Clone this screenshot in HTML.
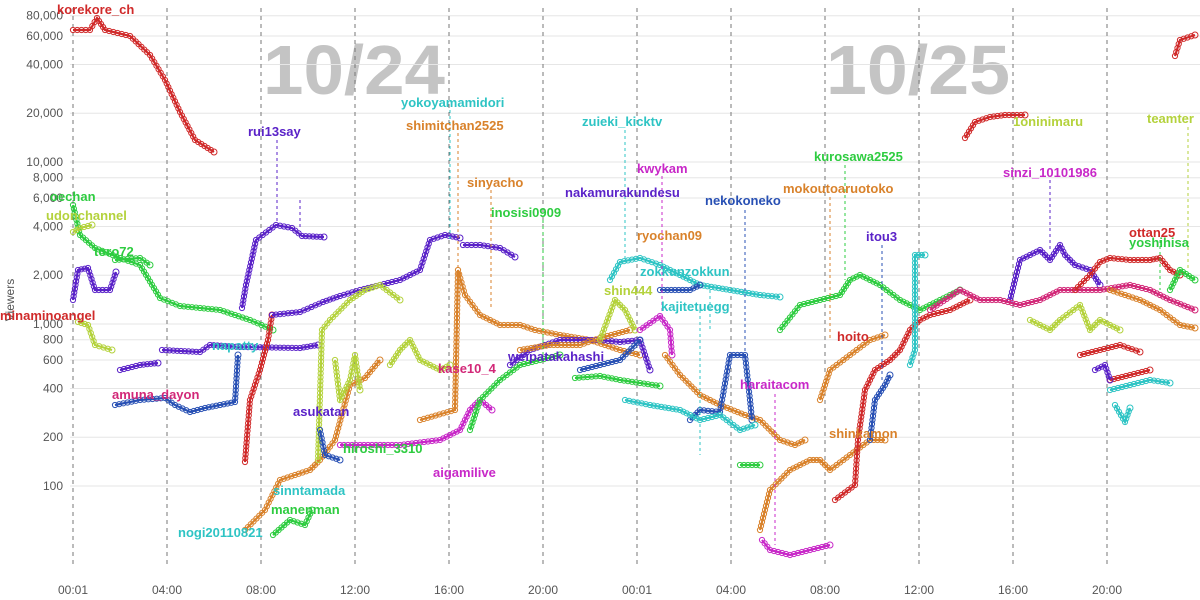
<!DOCTYPE html>
<html><head><meta charset="utf-8"><style>
body{margin:0;background:#fff;width:1200px;height:600px;overflow:hidden}
svg{display:block}
text{font-family:"Liberation Sans",sans-serif}
.t{font-size:12px;fill:#555}
.l{font-size:13px;font-weight:bold}
</style></head><body>
<svg id="s" width="1200" height="600" xmlns="http://www.w3.org/2000/svg">
<text x="263" y="94" font-size="70" font-weight="bold" fill="#c4c4c4" textLength="182" lengthAdjust="spacingAndGlyphs">10/24</text>
<text x="826" y="94" font-size="70" font-weight="bold" fill="#c4c4c4" textLength="184" lengthAdjust="spacingAndGlyphs">10/25</text>
<text class="t" transform="translate(14,300) rotate(-90)" text-anchor="middle" font-size="11">Viewers</text>
</svg>
<script>
var s=document.getElementById('s'),N='http://www.w3.org/2000/svg';
function ad(t,a,tx){var e=document.createElementNS(N,t);for(var k in a)e.setAttribute(k,a[k]);if(tx)e.textContent=tx;s.appendChild(e);return e;}
var ticks=[[80000,'80,000'],[60000,'60,000'],[40000,'40,000'],[20000,'20,000'],[10000,'10,000'],[8000,'8,000'],[6000,'6,000'],[4000,'4,000'],[2000,'2,000'],[1000,'1,000'],[800,'800'],[600,'600'],[400,'400'],[200,'200'],[100,'100']];
ticks.forEach(function(t){var y=324-162*Math.log10(t[0]/1000);
ad('line',{x1:70,x2:1200,y1:y,y2:y,stroke:'#e6e6e6'});
ad('text',{x:63,y:y+4,'text-anchor':'end','class':'t'},t[1]);});
var xl=['00:01','04:00','08:00','12:00','16:00','20:00','00:01','04:00','08:00','12:00','16:00','20:00'];
xl.forEach(function(l,i){var x=73+94*i;
ad('line',{x1:x,x2:x,y1:8,y2:568,stroke:'#777','stroke-dasharray':'4,4'});
ad('text',{x:x,y:594,'text-anchor':'middle','class':'t'},l);});
function ser(c,p){var d='M'+p.map(function(q){return q.join(',')}).join('L');
ad('path',{d:d,fill:'none',stroke:c,'stroke-width':2.2});
for(var i=0;i<p.length-1;i++){var a=p[i],b=p[i+1],L=Math.hypot(b[0]-a[0],b[1]-a[1]),n=Math.max(1,Math.round(L/4));
for(var j=0;j<n;j++){var f=j/n;ad('circle',{cx:a[0]+(b[0]-a[0])*f,cy:a[1]+(b[1]-a[1])*f,r:2.6,fill:'none',stroke:c,'stroke-width':1});}}
var z=p[p.length-1];ad('circle',{cx:z[0],cy:z[1],r:3,fill:'none',stroke:c,'stroke-width':1});}
var R='#d02a2a',P='#5a22c8',G='#2ecc40',YG='#b4d23c',O='#d9822b',B='#2850b4',T='#2ec4c4',M='#c828c8',MG='#d22878';
ser(R,[[73,30],[90,30],[97,18],[105,30],[130,36],[150,55],[165,80],[180,112],[195,140],[214,152]]);
ser(R,[[965,138],[975,122],[990,117],[1005,115],[1025,115]]);
ser(R,[[1175,56],[1180,40],[1195,35]]);
ser(P,[[242,308],[246,285],[256,240],[276,225],[292,228],[302,236],[324,237]]);
ser(G,[[73,205],[80,235],[95,248],[120,258],[140,265],[160,298],[180,306],[220,310],[250,320],[273,330]]);
ser(YG,[[73,232],[80,228],[92,225]]);
ser(G,[[115,260],[140,258],[150,265]]);
ser(P,[[73,300],[78,270],[88,268],[95,290],[110,290],[116,272]]);
ser(YG,[[78,322],[88,325],[95,345],[112,350]]);
ser(P,[[162,350],[200,352],[210,345],[240,347],[300,348],[318,345]]);
ser(B,[[115,405],[140,400],[165,398],[175,405],[190,412],[205,408],[220,405],[235,402],[238,355]]);
ser(P,[[120,370],[140,365],[158,363]]);
ser(R,[[245,462],[250,400],[260,370],[268,340],[272,315]]);
ser(P,[[272,315],[300,312],[323,302],[340,296],[360,290],[380,285],[400,280],[420,270],[430,240],[445,235],[460,238]]);
ser(P,[[463,245],[480,245],[500,248],[515,257]]);
ser(G,[[273,535],[290,520],[305,525],[312,510]]);
ser(O,[[245,530],[265,510],[280,480],[310,470],[320,460],[335,440],[350,385],[365,378],[380,360]]);
ser(YG,[[318,460],[322,330],[330,320],[350,300],[365,290],[380,285],[400,300]]);
ser(YG,[[335,360],[340,400],[350,380],[355,355],[360,390]]);
ser(O,[[420,420],[455,410],[458,270],[465,295],[480,315],[500,325],[520,325],[535,330],[560,335],[590,340],[620,350],[640,355]]);
ser(M,[[340,445],[400,445],[440,440],[460,430],[470,410],[480,400],[492,410]]);
ser(B,[[320,430],[325,455],[340,460]]);
ser(YG,[[390,365],[400,350],[410,340],[420,360],[440,370],[450,365]]);
ser(G,[[470,430],[480,400],[500,380],[520,365],[540,360],[560,355]]);
ser(P,[[510,365],[530,350],[560,340],[600,340],[620,342],[640,340],[650,370]]);
ser(O,[[520,350],[550,345],[580,345],[600,338],[630,330]]);
ser(YG,[[600,340],[615,300],[625,310],[635,330]]);
ser(T,[[610,280],[620,262],[640,258],[660,265],[680,275],[700,285],[730,290],[760,295],[780,297]]);
ser(M,[[640,330],[660,316],[670,330],[672,355]]);
ser(B,[[660,290],[690,290],[700,285]]);
ser(O,[[665,355],[680,375],[700,395],[720,405],[745,415],[760,420],[780,440],[795,445],[805,440]]);
ser(B,[[580,370],[600,365],[620,360],[640,340]]);
ser(B,[[690,420],[700,410],[720,412],[730,355],[745,355],[750,400],[752,420]]);
ser(T,[[625,400],[650,405],[680,410],[700,420],[720,415],[740,430],[755,425]]);
ser(G,[[575,378],[600,376],[620,380],[640,383],[660,386]]);
ser(G,[[740,465],[760,465]]);
ser(O,[[760,530],[770,490],[790,470],[810,460],[820,460],[830,470],[850,455],[870,440],[885,440]]);
ser(M,[[762,540],[770,550],[790,555],[810,550],[830,545]]);
ser(O,[[820,400],[830,370],[850,355],[870,340],[885,335]]);
ser(G,[[780,330],[800,305],[820,300],[840,295],[850,280],[860,275],[880,285],[900,300],[920,310],[940,300],[960,290]]);
ser(R,[[835,500],[855,485],[858,440],[865,390],[875,370],[890,360],[900,350],[910,330],[920,320],[930,315],[950,310],[970,300]]);
ser(B,[[870,440],[875,400],[885,385],[890,375]]);
ser(T,[[910,365],[915,350],[915,255],[925,255]]);
ser(P,[[1010,300],[1020,260],[1040,250],[1050,260],[1060,245],[1065,255],[1075,265],[1090,270],[1100,285]]);
ser(MG,[[930,310],[960,290],[980,300],[1000,300],[1020,305],[1040,300],[1060,290],[1080,290],[1100,290],[1130,285],[1150,290],[1170,300],[1195,310]]);
ser(R,[[1075,290],[1090,275],[1100,262],[1110,258],[1130,260],[1150,260],[1160,258],[1170,270],[1180,275]]);
ser(G,[[1170,290],[1180,270],[1195,280]]);
ser(O,[[1110,290],[1140,300],[1160,310],[1180,325],[1195,328]]);
ser(YG,[[1030,320],[1050,330],[1060,320],[1080,305],[1090,330],[1100,320],[1120,330]]);
ser(R,[[1080,355],[1100,350],[1120,345],[1140,352]]);
ser(T,[[1110,390],[1130,385],[1150,380],[1170,383]]);
ser(R,[[1110,380],[1130,375],[1150,370]]);
ser(P,[[1095,370],[1105,365],[1110,380]]);
ser(T,[[1115,405],[1125,422],[1130,408]]);
var lead=[[277,140,225,P],[450,110,240,T],[458,133,270,O],[491,190,310,O],[543,220,360,G],[625,130,262,T],[662,176,316,M],[745,210,355,B],[775,394,545,M],[845,165,280,G],[830,197,340,O],[882,245,380,B],[1050,180,250,P],[1188,127,270,YG],[1160,240,290,G],[700,310,455,T],[710,290,330,T],[300,200,230,P]];
lead.forEach(function(l){ad('line',{x1:l[0],x2:l[0],y1:l[1],y2:l[2],stroke:l[3],'stroke-width':1,'stroke-dasharray':'3,3'});});
var labs=[['korekore_ch',57,10,R],['oechan',50,197,G],['udonchannel',46,216,YG],['toro72',94,252,G],['minaminoangel',0,316,R],['napatty',212,346,T],['amuna_dayon',112,395,MG],['rui13say',248,132,P],['asukatan',293,412,P],['hiroshi_3310',343,449,G],['kase10_4',438,369,MG],['aigamilive',433,473,M],['sinntamada',273,491,T],['manenman',271,510,G],['nogi20110821',178,533,T],['yokoyamamidori',401,103,T],['shimitchan2525',406,126,O],['sinyacho',467,183,O],['inosisi0909',491,213,G],['weipatakahashi',508,357,P],['zuieki_kicktv',582,122,T],['kwykam',637,169,M],['nakamurakundesu',565,193,P],['ryochan09',637,236,O],['zokkunzokkun',640,272,T],['shin444',604,291,YG],['kajitetuegg',661,307,T],['nekokoneko',705,201,B],['haraitacom',740,385,M],['kurosawa2525',814,157,G],['mokoutoaruotoko',783,189,O],['itou3',866,237,P],['hoito',837,337,R],['shinkamon',829,434,O],['sinzi_10101986',1003,173,M],['1oninimaru',1013,122,YG],['teamter',1147,119,YG],['ottan25',1129,233,R],['yoshihisa',1129,243,G]];
labs.forEach(function(l){ad('text',{x:l[1],y:l[2]+4,'class':'l',fill:l[3]},l[0]);});
</script>
</body></html>
